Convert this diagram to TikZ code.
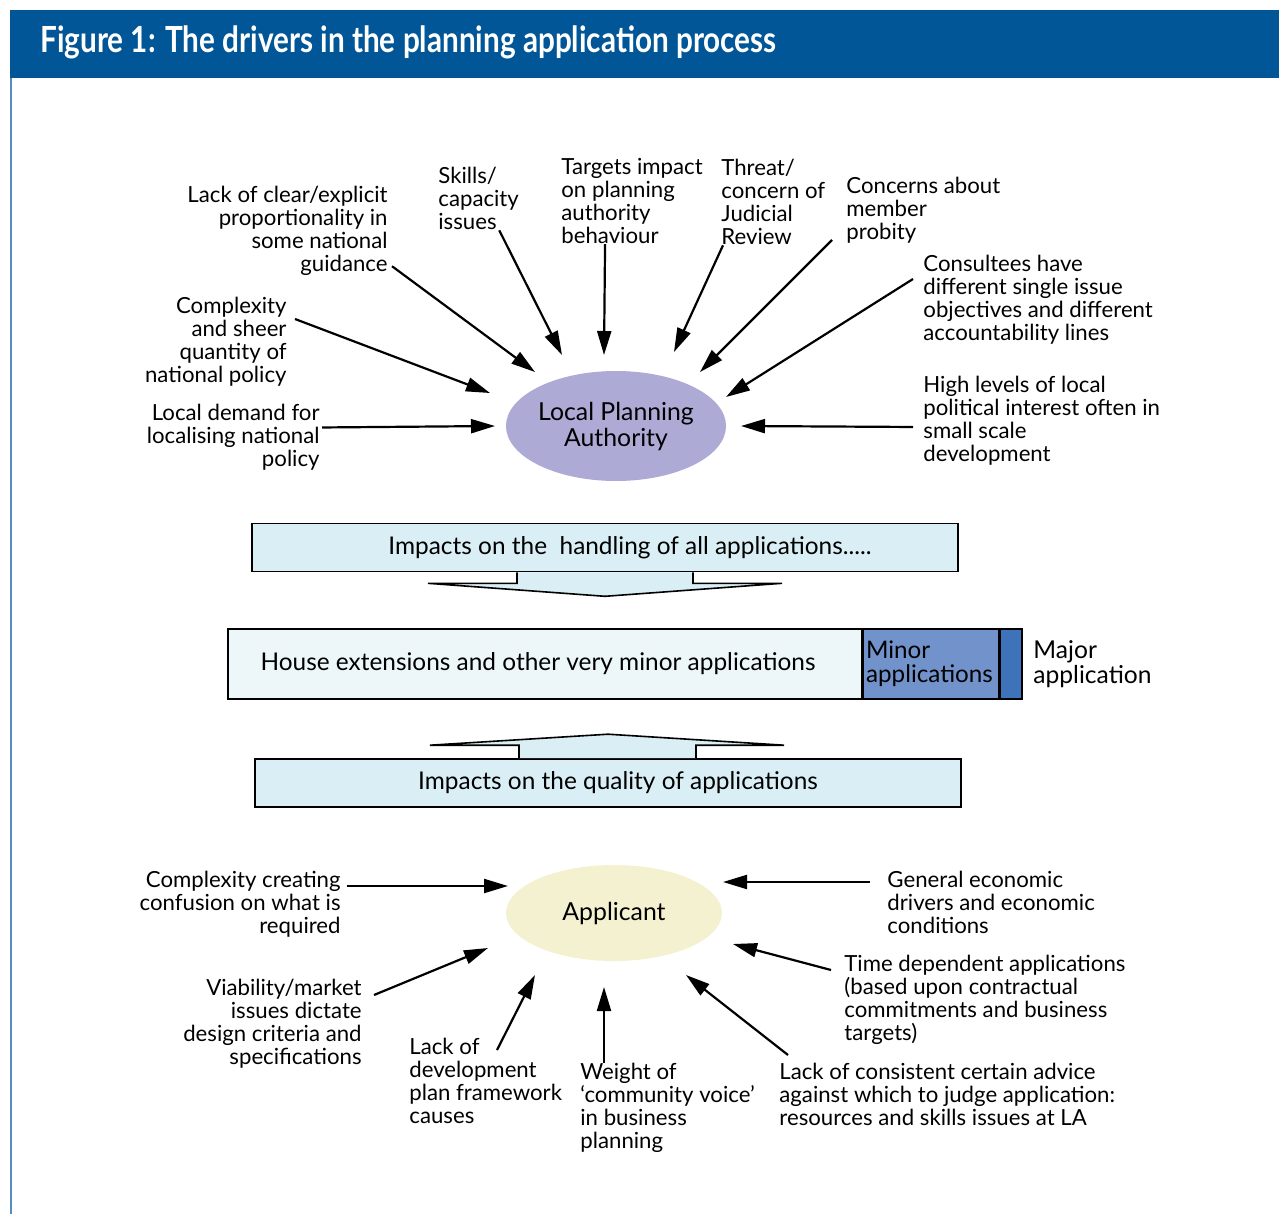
\documentclass[tikz,border=0pt]{standalone}
\usepackage{fontspec}
\usepackage{graphicx}
\setmainfont{Lato}
\usetikzlibrary{positioning,shapes.geometric,arrows.meta}

\definecolor{headblue}{RGB}{0,86,150}
\definecolor{rulecol}{RGB}{86,140,196}
\definecolor{lpafill}{RGB}{173,170,213}
\definecolor{appfill}{RGB}{244,241,208}
\definecolor{impfill}{RGB}{218,239,245}
\definecolor{barfill}{RGB}{237,246,248}
\definecolor{minorfill}{RGB}{114,146,203}
\definecolor{majorfill}{RGB}{62,114,185}

\tikzset{
  note/.style={inner sep=0pt, font=\fontsize{11.1}{11.5}\selectfont},
  driver/.style={-{Triangle[length=12pt,width=7pt]}, line width=1.1pt},
  hub/.style={ellipse, inner sep=0pt, align=center, font=\fontsize{12.4}{13}\selectfont},
  impact/.style={draw, line width=0.8pt, fill=impfill, minimum width=353pt,
    minimum height=24pt, font=\fontsize{12.2}{13}\selectfont},
  band/.style={draw, line width=0.8pt, minimum height=35pt, inner sep=2pt,
    font=\fontsize{12.2}{12}\selectfont},
  blockarrow/.style={draw, line width=0.8pt, fill=impfill},
}

\begin{document}
\begin{tikzpicture}[x=0.5pt,y=-0.5pt]
  \useasboundingbox (0,0) rectangle (1279,1214);

  % title band and frame line
  \fill[headblue] (10,10) rectangle (1279,78);
  \draw[rulecol, line width=1pt] (11,78) -- (11,1214);
  \node[anchor=west, text=white, inner sep=0pt, font=\fontsize{18}{18}\bfseries] (title) at (40,42)
    {\scalebox{0.825}[1]{Figure 1: The drivers in the planning application process}};

  % local planning authority and what pushes on it
  \node[hub, fill=lpafill, minimum width=108pt, minimum height=55pt] (lpa) at (616,426) {Local Planning\\Authority};

  \node[note, anchor=north east, align=right] (guid) at (388,186) {Lack of clear/explicit\\proportionality in\\some national\\guidance};
  \node[note, anchor=north west, align=left] (skills) at (438,167) {Skills/\\capacity\\issues};
  \node[note, anchor=north west, align=left] (targets) at (561,158) {Targets impact\\on planning\\authority\\behaviour};
  \node[note, anchor=north west, align=left] (threat) at (721,159) {Threat/\\concern of\\Judicial\\Review};
  \node[note, anchor=north west, align=left] (probity) at (846,177) {Concerns about\\member\\probity};
  \node[note, anchor=north west, align=left] (consult) at (923,255) {Consultees have\\different single issue\\objectives and different\\accountability lines};
  \node[note, anchor=north west, align=left] (politics) at (923,376) {High levels of local\\political interest often in\\small scale\\development};
  \node[note, anchor=north east, align=right] (demand) at (320,404) {Local demand for\\localising national\\policy};
  \node[note, anchor=north east, align=right] (quantity) at (287,297) {Complexity\\and sheer\\quantity of\\national policy};

  \draw[driver] ([shift={(2pt,5pt)}]guid.south east) -- ([shift={(-81,-54)}]lpa.center);
  \draw[driver] ([xshift=-10pt]skills.south east) -- ([shift={(-54,-71)}]lpa.center);
  \draw[driver] ([xshift=-13.5pt]targets.south) -- ([shift={(-12,-71)}]lpa.center);
  \draw[driver] ([xshift=1pt]threat.south west) -- ([shift={(58,-74)}]lpa.center);
  \draw[driver] ([shift={(-7pt,2pt)}]probity.south west) -- ([shift={(84,-54)}]lpa.center);
  \draw[driver] ([shift={(-5pt,-12pt)}]consult.north west) -- ([shift={(110,-29)}]lpa.center);
  \draw[driver] ([shift={(-5pt,-3pt)}]politics.west) -- ([shift={(125,0)}]lpa.center);
  \draw[driver] ([shift={(1pt,5pt)}]demand.east) -- ([shift={(-121,0)}]lpa.center);
  \draw[driver] ([shift={(4pt,-11pt)}]quantity.north east) -- ([shift={(-126,-33)}]lpa.center);

  % handling box with its arrow down
  \node[impact] (handling) at (605,547.5) {\hspace*{25pt}Impacts on the~ handling of all applications.....};
  \draw[blockarrow] ([xshift=-44pt]handling.south) -- ++(0,11) -- ++(-89,0)
    -- ([yshift=-12pt]handling.south) -- ([shift={(177,11)}]handling.south)
    -- ++(-89,0) -- ++(0,-11);

  % the range of applications
  \node[band, fill=barfill, minimum width=317pt] (houses) at (545,664) {House extensions and other very minor applications\hspace*{7pt}};
  \node[band, fill=minorfill, text width=65pt, inner sep=1.25pt, align=left, font=\fontsize{12.1}{12}\selectfont, right=0pt of houses] (minor) {Minor\\applications};
  \node[band, fill=majorfill, minimum width=11pt, right=0pt of minor] (major) {};
  \node[inner sep=0pt, align=left, font=\fontsize{12.3}{11.2}\selectfont, right=5pt of major] (majorlbl) {Major\\application};

  % quality box with its arrow up
  \node[impact] (quality) at (608,783) {\hspace*{10pt}Impacts on the quality of applications};
  \draw[blockarrow] ([xshift=-44.5pt]quality.north) -- ++(0,-13) -- ++(-89,0)
    -- ([yshift=12pt]quality.north) -- ([shift={(176,-13)}]quality.north)
    -- ++(-88,0) -- ++(0,13);

  % applicant and what pushes on it
  \node[hub, fill=appfill, minimum width=108pt, minimum height=48pt] (app) at (614,913) {Applicant};

  \node[note, anchor=north east, align=right] (confusion) at (341,871) {Complexity creating\\confusion on what is\\required};
  \node[note, anchor=north east, align=right] (viability) at (362,979) {Viability/market\\issues dictate\\design criteria and\\specifications};
  \node[note, anchor=north west, align=left] (devplan) at (409,1038) {Lack of\\development\\plan framework\\causes};
  \node[note, anchor=north west, align=left] (voice) at (580,1063) {Weight of\\‘community voice’\\in business\\planning};
  \node[note, anchor=north west, align=left] (advice) at (779,1063) {Lack of consistent certain advice\\against which to judge application:\\resources and skills issues at LA};
  \node[note, anchor=north west, align=left] (timedep) at (844,955) {Time dependent applications\\(based upon contractual\\commitments and business\\targets)};
  \node[note, anchor=north west, align=left] (economy) at (887,871) {General economic\\drivers and economic\\conditions};

  \draw[driver] ([shift={(3pt,-7.5pt)}]confusion.north east) -- ([shift={(-106,-27)}]app.center);
  \draw[driver] ([shift={(6pt,-8pt)}]viability.north east) -- ([shift={(-126,35)}]app.center);
  \draw[driver] ([shift={(44pt,-6pt)}]devplan.north west) -- ([shift={(-79,62)}]app.center);
  \draw[driver] ([xshift=12pt]voice.north west) -- ([shift={(-10,74)}]app.center);
  \draw[driver] ([shift={(4.5pt,4pt)}]advice.north west) -- ([shift={(72,62)}]app.center);
  \draw[driver] ([shift={(-6.5pt,-7.5pt)}]timedep.north west) -- ([shift={(119,31)}]app.center);
  \draw[driver] ([shift={(-8.5pt,-5.5pt)}]economy.north west) -- ([shift={(109,-31)}]app.center);
\end{tikzpicture}
\end{document}
